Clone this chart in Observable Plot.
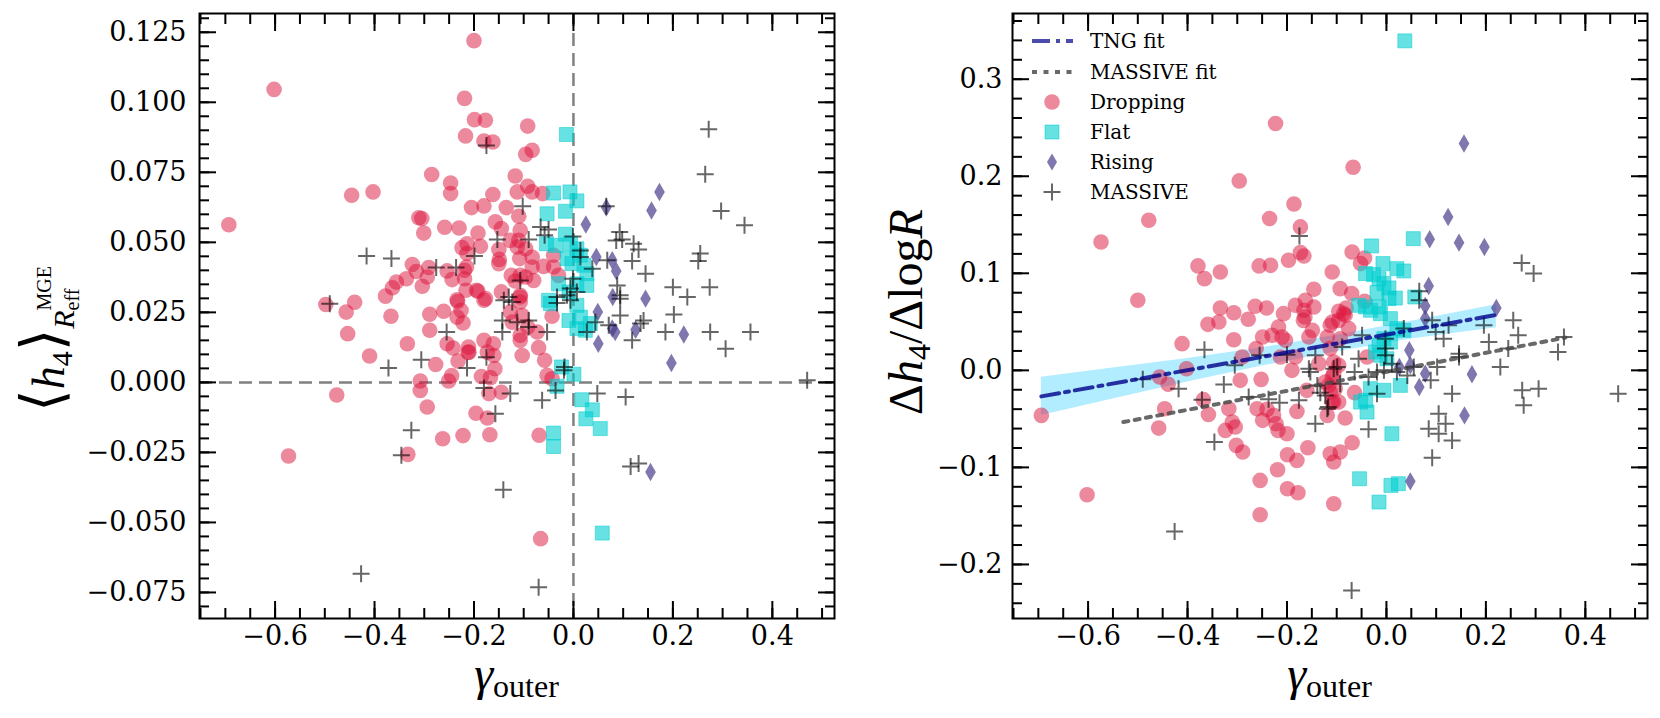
<!DOCTYPE html>
<html>
<head>
<meta charset="utf-8">
<script src="https://cdn.jsdelivr.net/npm/d3@7"></script>
<script src="https://cdn.jsdelivr.net/npm/@observablehq/plot@0.6"></script>
<style>
  html, body { margin: 0; padding: 0; background: #fff; overflow: hidden; }
  #wrap { position: relative; width: 1660px; height: 718px; }
  #wrap svg { position: absolute; top: 0; }
</style>
</head>
<body>
<div id="wrap"></div>
<script>
// ---------- tick values ----------
const xDomain = [-0.752, 0.525];
const xMajorTicks = [-0.6, -0.4, -0.2, 0.0, 0.2, 0.4];
const leftYDomain = [-0.0843, 0.1317];
const leftYMajorTicks = [-0.075, -0.05, -0.025, 0, 0.025, 0.05, 0.075, 0.1, 0.125];
const rightYDomain = [-0.2557, 0.3677];
const rightYMajorTicks = [-0.2, -0.1, 0.0, 0.1, 0.2, 0.3];
const xMinorTicks = d3.range(-15, 11).map(i => i * 0.05);
const leftYMinorTicks = d3.range(-16, 27).map(i => i * 0.005);
const rightYMinorTicks = d3.range(-12, 19).map(i => i * 0.02);

// ---------- legend labels ----------
const legendLabels = ["TNG fit", "MASSIVE fit", "Dropping", "Flat", "Rising", "MASSIVE"];

// ---------- left panel: <h4> vs gamma_outer ----------
const leftDropping = [[-0.200,0.1220],[-0.602,0.1046],[-0.219,0.1014],[-0.199,0.0938],[-0.177,0.0936],[-0.217,0.0880],[-0.180,0.0862],[-0.162,0.0858],[-0.092,0.0915],[-0.083,0.0829],[-0.096,0.0814],[-0.117,0.0737],[-0.285,0.0742],[-0.247,0.0712],[-0.247,0.0674],[-0.446,0.0668],[-0.403,0.0680],[-0.092,0.0700],[-0.083,0.0680],[-0.113,0.0680],[-0.062,0.0674],[-0.162,0.0671],[-0.205,0.0624],[-0.180,0.0630],[-0.135,0.0624],[-0.110,0.0593],[-0.157,0.0573],[-0.311,0.0588],[-0.305,0.0585],[-0.693,0.0563],[-0.301,0.0533],[-0.259,0.0554],[-0.230,0.0551],[-0.192,0.0533],[-0.145,0.0549],[-0.107,0.0543],[-0.110,0.0507],[-0.127,0.0507],[-0.214,0.0495],[-0.224,0.0481],[-0.187,0.0486],[-0.214,0.0460],[-0.150,0.0474],[-0.113,0.0483],[-0.096,0.0477],[-0.083,0.0447],[-0.149,0.0439],[-0.150,0.0424],[-0.108,0.0442],[-0.083,0.0412],[-0.060,0.0414],[-0.040,0.0412],[-0.040,0.0454],[-0.125,0.0382],[-0.107,0.0382],[-0.096,0.0376],[-0.080,0.0364],[-0.117,0.0362],[-0.145,0.0323],[-0.107,0.0311],[-0.030,0.0382],[-0.195,0.0329],[-0.324,0.0421],[-0.316,0.0396],[-0.291,0.0410],[-0.294,0.0376],[-0.336,0.0370],[-0.356,0.0358],[-0.364,0.0338],[-0.378,0.0308],[-0.304,0.0343],[-0.254,0.0398],[-0.244,0.0367],[-0.219,0.0370],[-0.219,0.0400],[-0.215,0.0412],[-0.216,0.0329],[-0.192,0.0325],[-0.177,0.0299],[-0.234,0.0295],[-0.440,0.0286],[-0.498,0.0278],[-0.457,0.0251],[-0.367,0.0236],[-0.454,0.0174],[-0.410,0.0094],[-0.334,0.0138],[-0.289,0.0243],[-0.289,0.0186],[-0.261,0.0254],[-0.233,0.0289],[-0.226,0.0257],[-0.234,0.0233],[-0.222,0.0212],[-0.254,0.0138],[-0.242,0.0123],[-0.211,0.0126],[-0.212,0.0107],[-0.180,0.0150],[-0.277,0.0064],[-0.232,0.0076],[-0.245,0.0024],[-0.251,0.0005],[-0.308,0.0005],[-0.308,-0.0029],[-0.185,0.0021],[-0.170,-0.0040],[-0.294,-0.0088],[-0.476,-0.0045],[-0.196,-0.0110],[-0.173,-0.0127],[-0.263,-0.0201],[-0.222,-0.0190],[-0.168,-0.0187],[-0.573,-0.0263],[-0.333,-0.0257],[-0.180,0.0293],[-0.107,0.0305],[-0.107,0.0287],[-0.127,0.0251],[-0.103,0.0239],[-0.123,0.0215],[-0.092,0.0198],[-0.073,0.0180],[-0.107,0.0168],[-0.107,0.0150],[-0.043,0.0236],[-0.161,0.0138],[-0.210,0.0108],[-0.173,0.0108],[-0.160,0.0096],[-0.103,0.0096],[-0.070,0.0124],[-0.058,0.0079],[-0.158,0.0049],[-0.167,0.0017],[-0.053,0.0025],[-0.043,0.0013],[-0.145,-0.0035],[-0.069,-0.0189],[-0.066,-0.0558]];

const leftFlat = [[-0.014,0.0885],[-0.040,0.0676],[-0.007,0.0680],[0.007,0.0648],[-0.053,0.0602],[-0.016,0.0611],[-0.016,0.0529],[-0.054,0.0495],[-0.036,0.0489],[-0.006,0.0495],[0.007,0.0477],[0.014,0.0454],[-0.013,0.0442],[0.021,0.0418],[-0.003,0.0424],[0.027,0.0388],[-0.030,0.0352],[0.007,0.0352],[0.027,0.0346],[-0.009,0.0323],[-0.050,0.0293],[-0.046,0.0281],[0.007,0.0275],[-0.009,0.0221],[0.014,0.0233],[0.007,0.0192],[0.024,0.0186],[0.034,0.0210],[-0.024,0.0055],[0.001,0.0029],[-0.033,-0.0014],[0.017,-0.0062],[0.038,-0.0098],[0.025,-0.0130],[0.054,-0.0165],[-0.040,-0.0181],[-0.040,-0.0229],[0.058,-0.0538]];

const leftRising = [[0.173,0.0680],[0.157,0.0614],[0.066,0.0624],[0.025,0.0564],[0.046,0.0448],[0.078,0.0436],[0.086,0.0398],[0.079,0.0305],[0.145,0.0299],[0.049,0.0251],[0.078,0.0192],[0.084,0.0180],[0.125,0.0188],[0.222,0.0171],[0.050,0.0138],[0.197,0.0069],[0.155,-0.0320]];

const leftMassive = [[-0.175,0.0846],[-0.416,0.0451],[-0.366,0.0442],[-0.276,0.0410],[-0.236,0.0410],[-0.199,0.0451],[-0.490,0.0281],[-0.255,0.0180],[-0.306,0.0081],[-0.372,0.0051],[-0.214,0.0051],[-0.175,0.0090],[-0.180,-0.0020],[-0.326,-0.0171],[-0.346,-0.0260],[-0.427,-0.0683],[0.272,0.0904],[0.265,0.0743],[0.297,0.0612],[0.344,0.0561],[0.066,0.0629],[-0.102,0.0629],[-0.066,0.0555],[-0.050,0.0546],[-0.058,0.0525],[-0.153,0.0510],[-0.090,0.0510],[-0.001,0.0521],[0.093,0.0537],[0.086,0.0507],[0.098,0.0510],[0.121,0.0495],[0.131,0.0474],[0.014,0.0471],[0.014,0.0448],[0.038,0.0406],[0.068,0.0436],[0.118,0.0433],[0.145,0.0388],[0.255,0.0460],[0.251,0.0433],[0.200,0.0340],[0.274,0.0340],[0.229,0.0305],[-0.001,0.0370],[-0.006,0.0335],[-0.013,0.0311],[0.088,0.0346],[0.094,0.0311],[-0.107,0.0364],[-0.033,0.0305],[-0.130,0.0305],[-0.140,0.0293],[-0.123,0.0287],[-0.033,0.0283],[-0.006,0.0293],[0.007,0.0323],[0.094,0.0299],[0.202,0.0242],[0.141,0.0221],[0.135,0.0210],[0.094,0.0239],[0.071,0.0204],[0.044,0.0215],[0.027,0.0180],[0.118,0.0150],[0.185,0.0180],[0.275,0.0180],[0.356,0.0180],[0.306,0.0120],[-0.143,0.0221],[-0.113,0.0215],[-0.090,0.0221],[-0.090,0.0198],[-0.143,0.0180],[-0.053,0.0180],[-0.019,0.0043],[-0.018,0.0055],[-0.127,-0.0040],[-0.036,-0.0029],[-0.063,-0.0064],[0.048,-0.0040],[0.105,-0.0052],[-0.157,-0.0112],[0.115,-0.0300],[0.131,-0.0290],[-0.141,-0.0383],[-0.070,-0.0731],[0.470,0.0008]];

// ---------- right panel: dh4/dlogR vs gamma_outer ----------
const rightDropping = [[-0.223,0.2543],[-0.296,0.1952],[-0.186,0.1714],[-0.235,0.1564],[-0.478,0.1546],[-0.173,0.1478],[-0.574,0.1323],[-0.173,0.1213],[-0.166,0.1178],[-0.379,0.1076],[-0.366,0.0945],[-0.334,0.1014],[-0.256,0.1076],[-0.233,0.1082],[-0.197,0.1134],[-0.109,0.1014],[-0.146,0.0835],[-0.500,0.0722],[-0.334,0.0643],[-0.307,0.0594],[-0.264,0.0660],[-0.241,0.0643],[-0.207,0.0584],[-0.183,0.0670],[-0.163,0.0722],[-0.146,0.0653],[-0.166,0.0619],[-0.164,0.0550],[-0.067,0.2093],[-0.069,0.1220],[-0.044,0.1158],[-0.052,0.1100],[-0.093,0.0842],[-0.070,0.0791],[-0.044,0.0711],[-0.081,0.0643],[-0.096,0.0608],[-0.086,0.0584],[-0.694,-0.0464],[-0.602,-0.1282],[-0.411,0.0275],[-0.402,0.0017],[-0.456,-0.0069],[-0.439,-0.0144],[-0.446,-0.0395],[-0.458,-0.0595],[-0.368,-0.0302],[-0.358,-0.0454],[-0.359,0.0474],[-0.337,0.0498],[-0.278,0.0526],[-0.307,0.0316],[-0.290,0.0137],[-0.294,-0.0103],[-0.317,-0.0395],[-0.324,-0.0619],[-0.310,-0.0533],[-0.304,-0.0584],[-0.302,-0.0773],[-0.289,-0.0842],[-0.262,0.0224],[-0.249,0.0343],[-0.252,-0.0093],[-0.260,-0.0395],[-0.240,-0.0402],[-0.249,-0.0515],[-0.227,-0.0464],[-0.222,-0.0550],[-0.218,-0.0619],[-0.200,-0.0653],[-0.254,-0.1134],[-0.254,-0.1488],[-0.219,-0.1024],[-0.199,-0.0869],[-0.199,-0.1220],[-0.178,-0.1261],[-0.180,-0.0928],[-0.158,-0.0797],[-0.113,-0.0859],[-0.106,-0.0945],[-0.106,-0.1374],[-0.230,0.0361],[-0.217,0.0446],[-0.210,0.0343],[-0.203,0.0309],[-0.213,0.0137],[-0.183,0.0137],[-0.190,0.0000],[-0.180,-0.0423],[-0.160,-0.0206],[-0.136,0.0069],[-0.123,-0.0120],[-0.119,-0.0464],[-0.113,0.0464],[-0.119,0.0343],[-0.113,0.0224],[-0.106,0.0086],[-0.106,-0.0034],[-0.113,-0.0224],[-0.106,-0.0327],[-0.156,0.0343],[-0.149,0.0412],[-0.167,0.0515],[-0.083,0.0567],[-0.096,0.0515],[-0.109,0.0498],[-0.076,0.0430],[-0.093,0.0326],[-0.096,0.0052],[-0.109,-0.0069],[-0.116,-0.0155],[-0.103,-0.0189],[-0.109,-0.0327],[-0.096,-0.0327],[-0.083,-0.0491],[-0.069,-0.0746],[-0.093,-0.0842],[-0.064,-0.0230],[-0.039,0.0137]];

const rightFlat = [[0.037,0.3395],[0.054,0.1357],[-0.030,0.1282],[-0.007,0.1100],[0.021,0.1048],[0.035,0.1024],[-0.042,0.0997],[-0.026,0.0987],[-0.015,0.0945],[-0.005,0.0894],[0.005,0.0849],[-0.019,0.0801],[0.018,0.0745],[0.005,0.0739],[0.057,0.0756],[-0.056,0.0670],[-0.042,0.0653],[-0.015,0.0653],[-0.022,0.0189],[-0.012,0.0155],[0.001,0.0120],[0.008,0.0292],[0.008,0.0533],[-0.012,0.0584],[-0.032,0.0619],[0.021,0.0430],[0.035,0.0412],[-0.005,0.0326],[-0.015,0.0258],[-0.042,-0.0309],[-0.039,-0.0430],[-0.052,-0.0327],[-0.032,-0.0189],[-0.005,-0.0206],[0.028,-0.0155],[0.011,-0.0653],[-0.054,-0.1117],[-0.015,-0.1357],[0.009,-0.1186],[0.024,-0.1168]];

const rightRising = [[0.156,0.2337],[0.124,0.1581],[0.087,0.1351],[0.146,0.1316],[0.197,0.1271],[0.085,0.0869],[0.078,0.0663],[0.221,0.0643],[0.078,0.0533],[0.046,0.0206],[0.048,0.0052],[0.026,0.0034],[0.078,-0.0034],[0.066,-0.0172],[0.172,-0.0041],[0.157,-0.0464],[0.048,-0.1144]];

const rightMassive = [[-0.175,0.1385],[0.272,0.1106],[0.296,0.0997],[0.066,0.0814],[0.066,0.0722],[-0.366,0.0213],[-0.490,-0.0093],[-0.418,-0.0189],[-0.371,-0.0302],[-0.346,-0.0739],[-0.426,-0.1660],[-0.327,-0.0147],[-0.305,0.0052],[-0.255,0.0155],[-0.277,-0.0275],[-0.237,-0.0299],[-0.215,-0.0333],[-0.200,0.0162],[-0.176,-0.0309],[-0.156,0.0017],[-0.153,-0.0017],[-0.143,0.0155],[-0.139,-0.0155],[-0.133,-0.0230],[-0.123,-0.0258],[-0.119,-0.0395],[-0.143,-0.0550],[-0.106,0.0017],[0.255,0.0515],[0.265,0.0361],[0.357,0.0343],[0.345,0.0189],[0.245,0.0224],[0.229,0.0034],[0.206,0.0292],[0.196,0.0464],[0.146,0.0137],[0.146,0.0172],[0.125,0.0464],[0.115,0.0326],[0.099,0.0395],[0.092,0.0515],[0.102,0.0034],[0.089,-0.0103],[0.132,-0.0240],[0.273,-0.0206],[0.306,-0.0189],[0.276,-0.0360],[0.466,-0.0240],[0.105,-0.0446],[0.119,-0.0550],[0.085,-0.0601],[0.105,-0.0653],[0.132,-0.0722],[0.092,-0.0900],[-0.036,-0.0608],[-0.019,-0.0240],[-0.070,-0.2268],[0.035,0.0430],[-0.002,0.0326],[-0.002,0.0224],[-0.002,0.0155],[0.011,0.0069],[0.021,-0.0017],[-0.005,0.0000],[-0.056,0.0120],[-0.036,-0.0069],[-0.019,-0.0017],[-0.064,-0.0017],[-0.099,0.0034],[-0.093,-0.0137],[-0.117,-0.0378],[-0.049,0.0361],[-0.089,0.0240],[0.042,-0.0052],[0.055,0.0034]];

// fits
const tngFitX = [-0.694, 0.221];
const tngFitY = [-0.0268, 0.0571];
const tngBandX  = [-0.694, -0.55, -0.40, -0.25, -0.10, 0.05, 0.221];
const tngBandLo = [-0.0466, -0.0296, -0.0119, 0.0044, 0.0191, 0.0322, 0.0440];
const tngBandHi = [-0.0070, 0.0024, 0.0121, 0.0234, 0.0361, 0.0506, 0.0675];
const massiveFitX = [-0.529, 0.360];
const massiveFitY = [-0.0533, 0.0337];

// ---------- styles ----------
const colDrop = "crimson", colFlat = "darkturquoise", colRise = "darkslateblue";
const plusSymbol = {
  draw(ctx, size) {
    const r = Math.sqrt(size / Math.PI);
    ctx.moveTo(-r, 0); ctx.lineTo(r, 0);
    ctx.moveTo(0, -r); ctx.lineTo(0, r);
  }
};
const px = d => d[0], py = d => d[1];

function scatterMarks(drop, flat, rise, mass) {
  return [
    Plot.dot(drop, {x: px, y: py, r: 7.8, fill: colDrop, fillOpacity: 0.5}),
    Plot.dot(flat, {x: px, y: py, symbol: "square", r: 7.9, fill: colFlat, fillOpacity: 0.6, stroke: colFlat, strokeOpacity: 0.5, strokeWidth: 1}),
    Plot.dot(rise, {x: px, y: py, symbol: "diamond", r: 5.6, fill: colRise, fillOpacity: 0.7}),
    Plot.dot(mass, {x: px, y: py, symbol: plusSymbol, r: 8.5, fill: "none", stroke: "black", strokeOpacity: 0.6, strokeWidth: 2})
  ];
}

function axes(yMajor, yMinor, yFmt, yGap) {
  const blank = () => "";
  return [
    Plot.axisX(xMinorTicks, {anchor: "bottom", tickSize: -10, tickFormat: blank, strokeWidth: 2}),
    Plot.axisX(xMinorTicks, {anchor: "top", tickSize: -10, tickFormat: blank, strokeWidth: 2}),
    Plot.axisX(xMajorTicks, {anchor: "bottom", tickSize: -17, tickPadding: 24, tickFormat: d3.format(".1f"), strokeWidth: 2}),
    Plot.axisX(xMajorTicks, {anchor: "top", tickSize: -17, tickFormat: blank, strokeWidth: 2}),
    Plot.axisY(yMinor, {anchor: "left", tickSize: -10, tickFormat: blank, strokeWidth: 2}),
    Plot.axisY(yMinor, {anchor: "right", tickSize: -10, tickFormat: blank, strokeWidth: 2}),
    Plot.axisY(yMajor, {anchor: "left", tickSize: -17, tickPadding: 17 + yGap, tickFormat: yFmt, strokeWidth: 2}),
    Plot.axisY(yMajor, {anchor: "right", tickSize: -17, tickFormat: blank, strokeWidth: 2}),
    Plot.frame({stroke: "black", strokeWidth: 2})
  ];
}

const common = {
  height: 718, marginTop: 13, marginBottom: 100,
  style: {fontFamily: "'DejaVu Serif', serif", fontSize: "27px", background: "transparent", color: "black", overflow: "visible"},
  x: {domain: xDomain, label: null}
};

const leftPlot = Plot.plot({
  ...common, width: 850, marginLeft: 199, marginRight: 16,
  y: {domain: leftYDomain, label: null},
  marks: [
    Plot.ruleX([0], {stroke: "#808080", strokeWidth: 2.5, strokeDasharray: "13,7"}),
    Plot.ruleY([0], {stroke: "#808080", strokeWidth: 2.5, strokeDasharray: "13,7"}),
    ...scatterMarks(leftDropping, leftFlat, leftRising, leftMassive),
    ...axes(leftYMajorTicks, leftYMinorTicks, d3.format(".3f"), 13)
  ]
});
leftPlot.style.left = "0px";

const band = tngBandX.map((x, i) => ({x, lo: tngBandLo[i], hi: tngBandHi[i]}));
const tngFit = tngFitX.map((x, i) => ({x, y: tngFitY[i]}));
const massiveFit = massiveFitX.map((x, i) => ({x, y: massiveFitY[i]}));

const rightPlot = Plot.plot({
  ...common, width: 810, marginLeft: 162, marginRight: 13,
  y: {domain: rightYDomain, label: null},
  marks: [
    Plot.areaY(band, {x: "x", y1: "lo", y2: "hi", fill: "deepskyblue", fillOpacity: 0.3}),
    ...scatterMarks(rightDropping, rightFlat, rightRising, rightMassive),
    Plot.line(massiveFit, {x: "x", y: "y", stroke: "#444", strokeOpacity: 0.8, strokeWidth: 4, strokeDasharray: "5,6.5"}),
    Plot.line(tngFit, {x: "x", y: "y", stroke: "darkblue", strokeOpacity: 0.8, strokeWidth: 4, strokeDasharray: "18,6,4,6"}),
    ...axes(rightYMajorTicks, rightYMinorTicks, d3.format(".1f"), 10)
  ]
});
rightPlot.style.left = "850px";

const wrap = document.getElementById("wrap");
wrap.appendChild(leftPlot);
wrap.appendChild(rightPlot);

// ---------- overlay: axis titles and legend ----------
const NS = "http://www.w3.org/2000/svg";
const ov = document.createElementNS(NS, "svg");
ov.setAttribute("width", 1660); ov.setAttribute("height", 718);
ov.style.left = "0px"; ov.style.pointerEvents = "none";
const serif = "'Liberation Serif','DejaVu Serif',serif";

let html = "";
// left y title  <h4>_{R_eff}^{MGE}
html += `<text transform="translate(64,412) rotate(-90)" font-family="${serif}" font-size="46" fill="black">` +
  `<tspan font-family="'DejaVu Serif'" font-size="58" dy="-2">⟨</tspan><tspan font-style="italic" dy="2">h</tspan>` +
  `<tspan font-size="30" dy="8">4</tspan><tspan font-family="'DejaVu Serif'" font-size="58" dy="-10">⟩</tspan>` +
  `<tspan font-style="italic" font-size="30" dy="12">R</tspan><tspan font-size="20" dy="5">eff</tspan>` +
  `<tspan font-size="20" dx="-22" dy="-28">MGE</tspan></text>`;
// right y title  Δh4/ΔlogR
html += `<text transform="translate(922,312) rotate(-90)" text-anchor="middle" font-family="${serif}" font-size="48" fill="black">` +
  `<tspan>Δ</tspan><tspan font-style="italic">h</tspan><tspan font-size="32" dy="8">4</tspan>` +
  `<tspan dy="-8">/Δlog</tspan><tspan font-style="italic">R</tspan></text>`;
// x titles
for (const cx of [516.5, 1329.5]) {
  html += `<text x="${cx}" y="690" text-anchor="middle" font-family="${serif}" font-size="48" fill="black">` +
    `<tspan font-style="italic">γ</tspan><tspan font-size="32" dy="7">outer</tspan></text>`;
}
// legend
const lx0 = 1032, lx1 = 1073, lcx = 1052, ltx = 1090;
const rowY = [41, 72, 102, 132, 162, 192];
html += `<line x1="${lx0}" x2="${lx1}" y1="${rowY[0]}" y2="${rowY[0]}" stroke="darkblue" stroke-opacity="0.7" stroke-width="4" stroke-dasharray="18,6,4,6"/>`;
html += `<line x1="${lx0}" x2="${lx1}" y1="${rowY[1]}" y2="${rowY[1]}" stroke="#444" stroke-opacity="0.8" stroke-width="4" stroke-dasharray="5,6.5"/>`;
html += `<circle cx="${lcx}" cy="${rowY[2]}" r="7.8" fill="${colDrop}" fill-opacity="0.5"/>`;
html += `<rect x="${lcx-7}" y="${rowY[3]-7}" width="14" height="14" fill="${colFlat}" fill-opacity="0.6" stroke="${colFlat}" stroke-opacity="0.5"/>`;
html += `<path d="M${lcx},${rowY[4]-8.5} L${lcx+5},${rowY[4]} L${lcx},${rowY[4]+8.5} L${lcx-5},${rowY[4]} Z" fill="${colRise}" fill-opacity="0.7"/>`;
html += `<path d="M${lcx-8.5},${rowY[5]} H${lcx+8.5} M${lcx},${rowY[5]-8.5} V${rowY[5]+8.5}" stroke="black" stroke-opacity="0.6" stroke-width="2" fill="none"/>`;
legendLabels.forEach((lab, i) => {
  html += `<text x="${ltx}" y="${rowY[i]}" dy="0.35em" font-family="'DejaVu Serif',serif" font-size="20" fill="black">${lab}</text>`;
});
ov.innerHTML = html;
wrap.appendChild(ov);
</script>
</body>
</html>
